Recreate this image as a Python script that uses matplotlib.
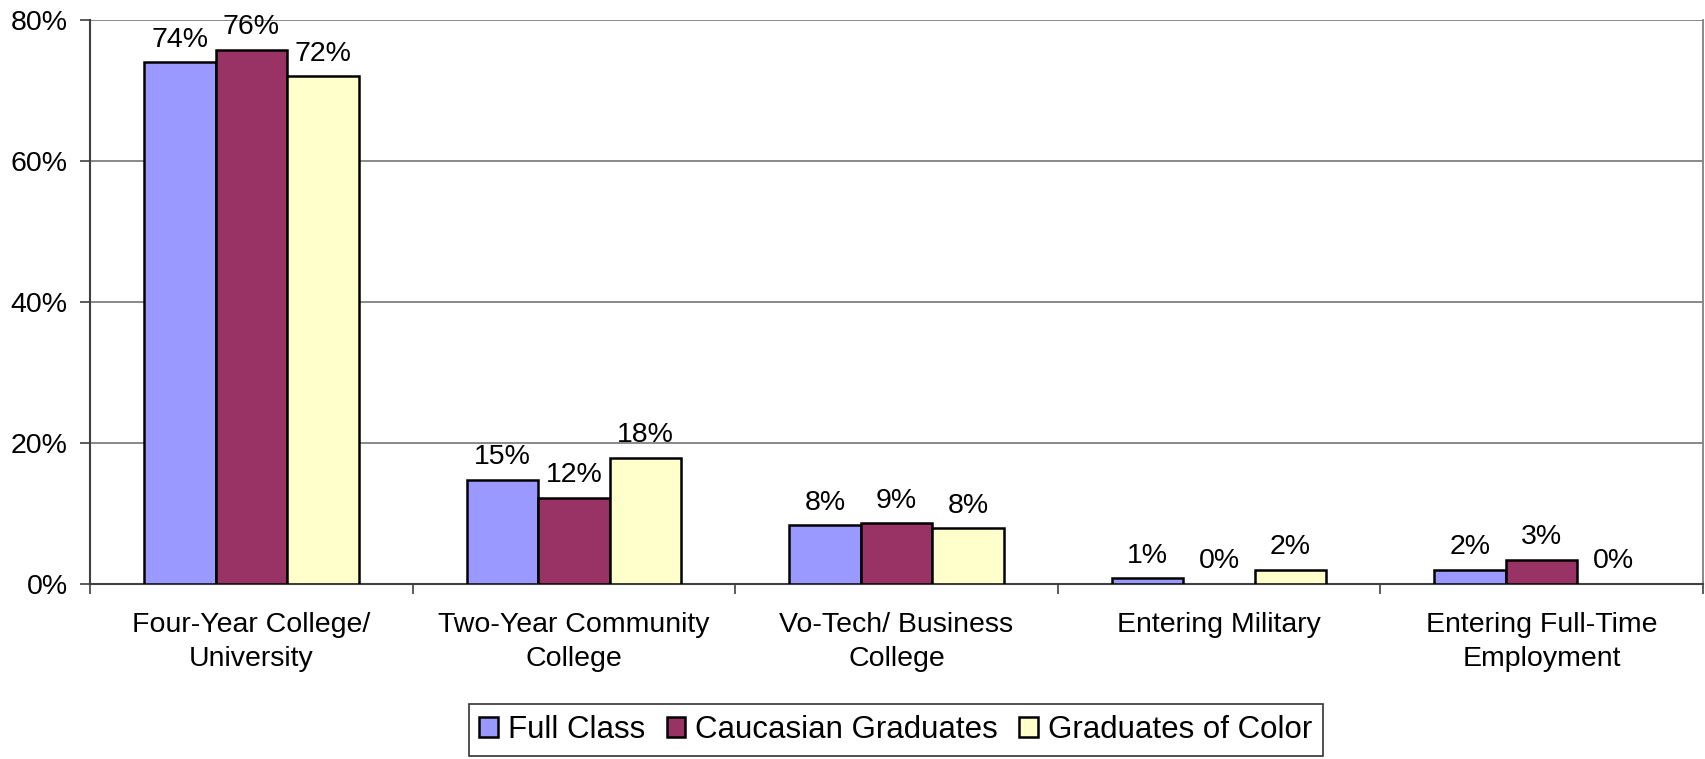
import numpy as np
import matplotlib.pyplot as plt
from matplotlib.ticker import PercentFormatter

categories = ["Four-Year College/\nUniversity", "Two-Year Community\nCollege",
              "Vo-Tech/ Business\nCollege", "Entering Military",
              "Entering Full-Time\nEmployment"]
series_names = ["Full Class", "Caucasian Graduates", "Graduates of Color"]
full_class = [74.0, 14.8, 8.3, 0.8, 2.0]
caucasian = [75.8, 12.2, 8.6, 0.0, 3.4]
of_color = [72.0, 17.9, 7.9, 2.0, 0.0]
colors = ["#9999FF", "#993366", "#FFFFCC"]

plt.rcParams['font.family'] = ['Liberation Sans', 'DejaVu Sans']
plt.rcParams['font.size'] = 20.5

fig = plt.figure(figsize=(17.06, 7.59), dpi=100)
ax = fig.add_axes([90 / 1706, 1 - 584 / 759, (1703 - 90) / 1706, (584 - 20) / 759])

x = np.arange(len(categories))
width = 0.2216
for i, (vals, name, c) in enumerate(zip([full_class, caucasian, of_color], series_names, colors)):
    pos = x + (i - 1) * width
    bars = ax.bar(pos, vals, width=width, color=c, edgecolor="black", linewidth=1.8,
                  label=name, zorder=3)
    for b, v in zip(bars, vals):
        if v == 0:
            b.set_visible(False)  # excel draws nothing for empty bars
        ax.annotate("%d%%" % round(v), (b.get_x() + b.get_width() / 2, v),
                    xytext=(0, 7), textcoords="offset points",
                    ha="center", va="bottom", fontsize=20.5)

ax.set_xlim(-0.5, len(categories) - 0.5)
ax.set_ylim(0, 80)
ax.set_yticks([0, 20, 40, 60, 80])
ax.yaxis.set_major_formatter(PercentFormatter(decimals=0))
ax.yaxis.grid(True, color="#808080", linewidth=1.3, zorder=0)

# category labels in the middle, ticks between categories
ax.set_xticks(x)
ax.set_xticklabels(categories, linespacing=1.4)
ax.tick_params(axis="x", length=0, pad=20)
ax.set_xticks(np.arange(len(categories) + 1) - 0.5, minor=True)
ax.tick_params(axis="x", which="minor", length=7, width=1.2, color="#404040", direction="out")
ax.tick_params(axis="y", length=7, width=1.2, color="#404040", pad=9)

for s in ["left", "bottom"]:
    ax.spines[s].set_color("#404040")
    ax.spines[s].set_linewidth(1.5)
ax.spines["right"].set_color("#808080")
ax.spines["right"].set_linewidth(1.3)
ax.spines["top"].set_visible(False)

leg = fig.legend(loc="lower center", bbox_to_anchor=(0.525, 0.0), ncol=3,
                 fancybox=False, frameon=True, edgecolor="black",
                 handlelength=0.6, handleheight=0.6, handletextpad=0.3,
                 columnspacing=0.7, borderpad=0.35, borderaxespad=0.1,
                 fontsize=22.5)
leg.get_frame().set_linewidth(1.2)

fig.savefig("out.png", dpi=100)
